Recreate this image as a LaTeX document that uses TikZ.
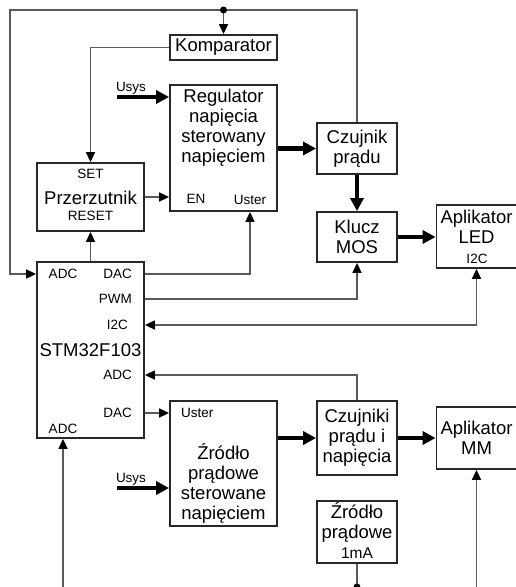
\documentclass[tikz,border=0pt]{standalone}
\usepackage{fontspec}
\setmainfont{Liberation Sans}
\usetikzlibrary{arrows.meta,positioning,calc}
\definecolor{lngray}{RGB}{90,90,90}
\definecolor{bxgray}{RGB}{40,40,40}

\begin{document}
\begin{tikzpicture}[x=1pt,y=-1pt,
  blk/.style={draw=bxgray,line width=1.8pt,fill=white,inner sep=0pt},
  txt/.style={font=\fontsize{18.5}{20}\selectfont,align=center,inner sep=0pt},
  lbl/.style={font=\fontsize{13.5}{15}\selectfont,inner sep=0pt},
  sig/.style={draw=lngray,line width=1.6pt},
  arr/.style={sig,-{Triangle[length=10pt,width=9pt,color=black]}},
  arrb/.style={sig,{Triangle[length=10pt,width=9pt,color=black]}-{Triangle[length=10pt,width=9pt,color=black]}},
  pwr/.style={line width=4.5pt,-{Triangle[length=13pt,width=13pt]}}
]
  \useasboundingbox (0,0) rectangle (516,587);
  \clip (0,0) rectangle (516,587);
  % Upper blocks
  \node[blk,txt,minimum width=107pt,minimum height=25pt] (komp) at (223.5,47.5) {Komparator};
  \node[blk,minimum width=107pt,minimum height=126pt] (reg) at (223.5,148) {};
  \node[txt] (regT) at (223.5,128) {Regulator\\napięcia\\sterowany\\napięciem};
  \node[lbl] (en) at (196,199) {EN};
  \node[lbl] (ustA) at (250,200) {Uster};
  \node[blk,txt,minimum width=80pt,minimum height=51pt] (czp) at (357,148.5) {Czujnik\\prądu};
  \node[blk,txt,minimum width=80pt,minimum height=50pt] (klucz) at (357,237) {Klucz\\MOS};
  \node[blk,minimum width=80pt,minimum height=63pt] (led) at (476.5,236.5) {};
  \node[txt] (ledT) at (476.5,227) {Aplikator\\LED};
  \node[lbl] (ledI) at (477,259) {I2C};
  \node[blk,minimum width=107pt,minimum height=68pt] (prz) at (90.5,197) {};
  \node[lbl] (set) at (90.5,174) {SET};
  \node[txt] (przT) at (90.5,198) {Przerzutnik};
  \node[lbl] (reset) at (90.5,216) {RESET};
  % Microcontroller
  \node[blk,minimum width=107pt,minimum height=176pt] (stm) at (90.5,350) {};
  \node[lbl] (adcA) at (63,274) {ADC};
  \node[lbl,anchor=east] (dacA) at (132,274) {DAC};
  \node[lbl,anchor=east] (pwm) at (132,299) {PWM};
  \node[lbl,anchor=east] (i2c) at (128,325) {I2C};
  \node[txt] (stmT) at (90.5,350) {STM32F103};
  \node[lbl,anchor=east] (adcB) at (132,375) {ADC};
  \node[lbl,anchor=east] (dacB) at (132,413) {DAC};
  \node[lbl] (adcC) at (63,429) {ADC};
  % Lower blocks
  \node[blk,minimum width=107pt,minimum height=125pt] (zrodlo) at (223.5,463.5) {};
  \node[lbl,anchor=west] (ustB) at (181,413) {Uster};
  \node[txt] (zrT) at (223.5,483.5) {Źródło\\prądowe\\sterowane\\napięciem};
  \node[blk,txt,minimum width=80pt,minimum height=74pt] (czuj2) at (357,438) {Czujniki\\prądu i\\napięcia};
  \node[blk,txt,minimum width=80pt,minimum height=62pt] (mm) at (476.5,438) {Aplikator\\MM};
  \node[blk,minimum width=80pt,minimum height=62pt] (src) at (357,532) {};
  \node[txt] (srcT) at (357,522) {Źródło\\prądowe};
  \node[lbl,font=\fontsize{15.5}{17}\selectfont] (srcI) at (357,553) {1mA};
  % Supply inputs
  \coordinate (usysA) at (117,97);
  \coordinate (usysB) at (117,488);
  \node[lbl] (usysAT) at (131,88) {Usys};
  \node[lbl] (usysBT) at (131,479) {Usys};
  \draw[pwr] (usysA) -- (reg.west |- usysA);
  \draw[pwr] (usysB) -- (zrodlo.west |- usysB);
  % Power path
  \draw[pwr] (reg.east |- czp.west) -- (czp.west);
  \draw[pwr] (czp.south) -- (klucz.north);
  \draw[pwr] (klucz.east) -- (led.west |- klucz.east);
  \draw[pwr] (zrodlo.east |- czuj2.west) -- (czuj2.west);
  \draw[pwr] (czuj2.east) -- (mm.west |- czuj2.east);
  % Feedback and control lines
  \coordinate (tl) at (10,10);
  \coordinate (tap) at (223.5,10);
  \draw[arr] (czp.north) |- (tl) |- (stm.west |- adcA);
  \draw[arr] (tap) -- (komp.north);
  \fill[black] (tap) circle (3.5pt);
  \draw[arr] (komp.west) -| (prz.north);
  \draw[arr] (prz.east) -- (reg.west |- prz.east);
  \draw[arr] (stm.north) -- (prz.south);
  \draw[arr] (stm.east |- dacA) -| (ustA |- reg.south);
  \draw[arr] (stm.east |- pwm) -| (klucz.south);
  \draw[arrb] (stm.east |- i2c) -| (led.south);
  \draw[arr] (czuj2.north) |- (stm.east |- adcB);
  \draw[arr] (stm.east |- dacB) -- (zrodlo.west |- dacB);
  % Lines leaving the sheet
  \coordinate (botA) at (63,600);
  \coordinate (botB) at (476.5,600);
  \coordinate (botC) at (357,587);
  \draw[arr] (botA) -- (botA |- stm.south);
  \draw[arr] (botB) -- (mm.south);
  \draw[sig] (src.south) -- (botC);
  \fill[black] (botC) circle (3.5pt);
\end{tikzpicture}
\end{document}
